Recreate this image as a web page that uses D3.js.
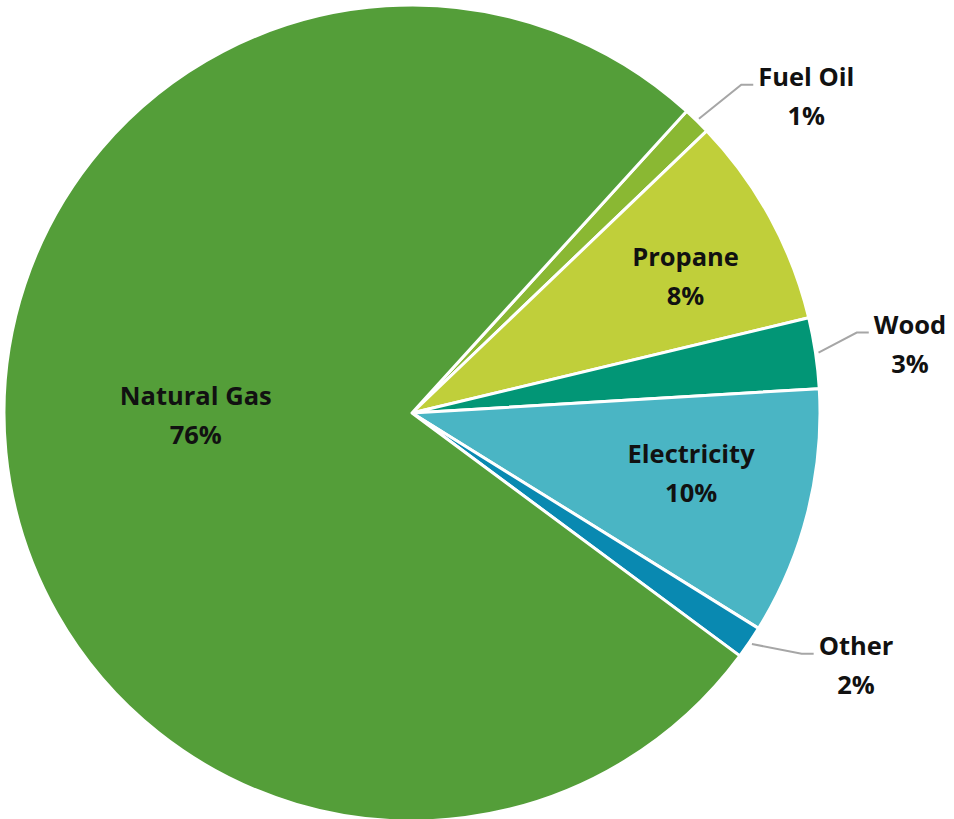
<!DOCTYPE html>
<html>
<head>
<meta charset="utf-8">
<script src="https://cdn.jsdelivr.net/npm/d3@7"></script>
<style>
  body { margin: 0; background: #fff; }
  text { font-family: "Open Sans", Lato, sans-serif; font-weight: bold; fill: #111; }
</style>
</head>
<body>
<div id="chart"></div>
<script>
// slice data, clockwise from the Fuel Oil slice
var names = ["Fuel Oil", "Propane", "Wood", "Electricity", "Other", "Natural Gas"];
var values = [1.1, 8.4, 2.8, 9.8, 1.3, 76.6];
var pctLabels = ["1%", "8%", "3%", "10%", "2%", "76%"];
var colors = ["#8AB833", "#C0CF3A", "#029676", "#4AB5C4", "#0989B1", "#549E39"];
var outside = [true, false, true, false, true, false];

var w = 954, h = 819;
var cx = 412, cy = 413, R = 408;
var deg = Math.PI / 180;
var fs = "25.5px";

var svg = d3.select("#chart").append("svg")
    .attr("width", w)
    .attr("height", h);

var g = svg.append("g").attr("transform", "translate(" + cx + "," + cy + ")");

var pie = d3.pie()
    .sort(null)
    .value(function(d) { return d; })
    .startAngle(42.3 * deg)
    .endAngle(42.3 * deg + 2 * Math.PI);

var arcs = pie(values);

var arc = d3.arc().innerRadius(0).outerRadius(R);

g.selectAll("path.slice").data(arcs).enter().append("path")
    .attr("class", "slice")
    .attr("d", arc)
    .attr("fill", function(d, i) { return colors[i]; })
    .attr("stroke", "#fff")
    .attr("stroke-width", 3)
    .attr("stroke-linejoin", "round");

function polar(a, r) { return [Math.sin(a) * r, -Math.cos(a) * r]; }
function mid(d) { return (d.startAngle + d.endAngle) / 2; }

// inside labels
var inR = {1: 0.75, 3: 0.70, 5: 0.53};
var inShift = {1: 2 * deg, 3: -2 * deg, 5: 5 * deg};
arcs.forEach(function(d, i) {
  if (outside[i]) return;
  var p = polar(mid(d) + inShift[i], R * inR[i]);
  var t = g.append("text").attr("text-anchor", "middle").style("font-size", fs);
  t.append("tspan").attr("x", p[0]).attr("y", p[1] - 10).text(names[i]);
  t.append("tspan").attr("x", p[0]).attr("y", p[1] + 29).text(pctLabels[i]);
});

// outside labels with leader lines
var elbowShift = {0: 0.8 * deg, 2: -1.8 * deg, 4: -2.5 * deg};
var elbowR = {0: 465, 2: 452, 4: 458};
arcs.forEach(function(d, i) {
  if (!outside[i]) return;
  var a = mid(d);
  var p0 = polar(a, R + 3);
  var p1 = polar(a + elbowShift[i], elbowR[i]);
  var p2 = [p1[0] + 12, p1[1]];
  g.append("polyline")
    .attr("points", [p0, p1, p2].map(function(p) { return p.join(","); }).join(" "))
    .attr("fill", "none")
    .attr("stroke", "#a6a6a6")
    .attr("stroke-width", 2);

  var t = g.append("text").attr("text-anchor", "middle").style("font-size", fs);
  var tmp = t.append("tspan").text(names[i]);
  var tw = tmp.node().getComputedTextLength();
  var lx = p2[0] + 5 + tw / 2;
  tmp.attr("x", lx).attr("y", p2[1] + 1);
  t.append("tspan").attr("x", lx).attr("y", p2[1] + 40).text(pctLabels[i]);
});
</script>
</body>
</html>
